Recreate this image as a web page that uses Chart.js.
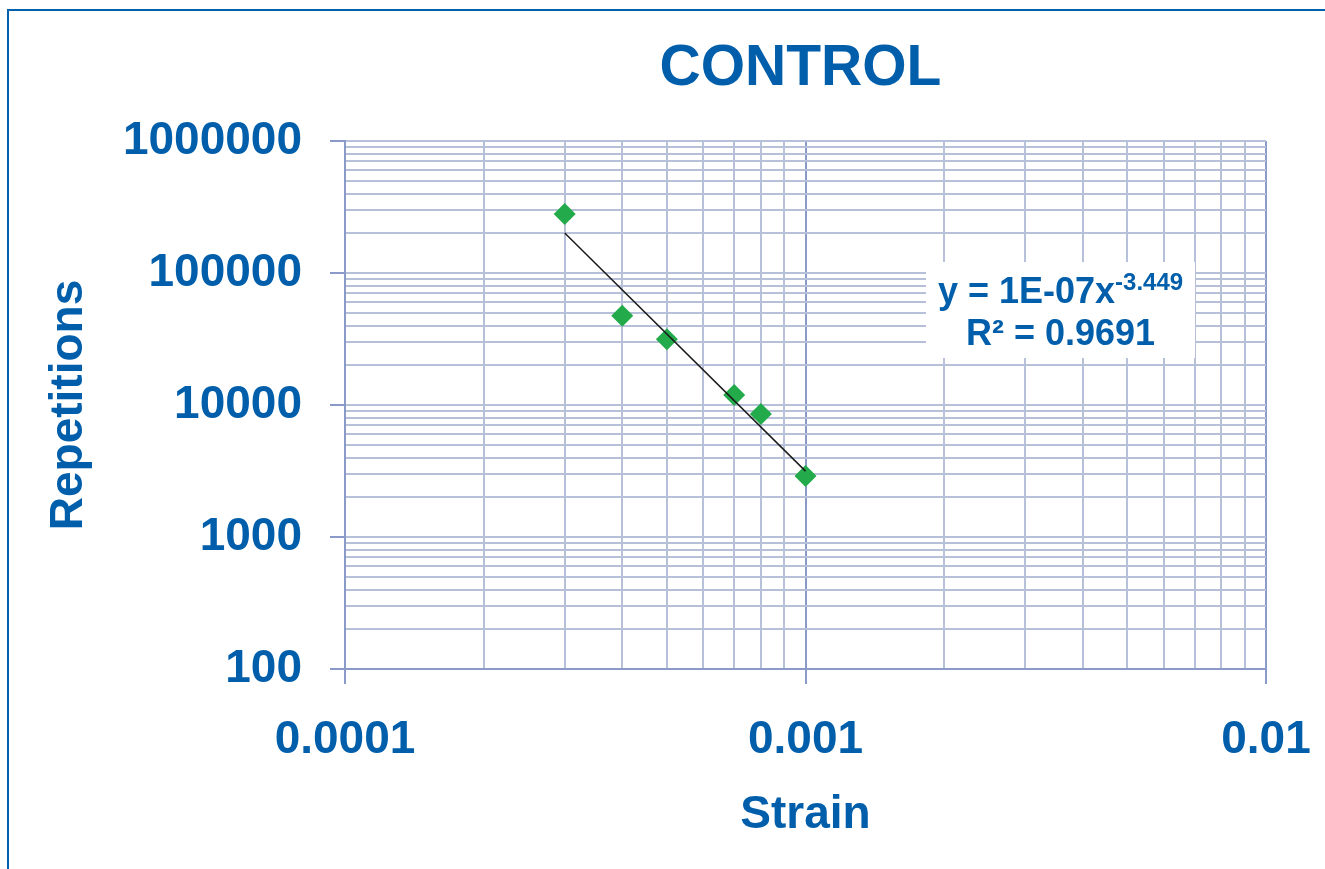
<!DOCTYPE html>
<html>
<head>
<meta charset="utf-8">
<title>CONTROL</title>
<script src="https://cdn.jsdelivr.net/npm/chart.js@4.4.0/dist/chart.umd.min.js"></script>
<style>
  html, body { margin: 0; padding: 0; background: #ffffff; overflow: hidden; }
  #wrap { position: relative; width: 1325px; height: 869px; overflow: hidden; }
  #frame {
    position: absolute; left: 7px; top: 9px; width: 1400px; height: 900px;
    border-left: 2px solid #0060ac; border-top: 2px solid #0060ac;
    pointer-events: none;
  }
  canvas { position: absolute; left: 0; top: 0; }
</style>
</head>
<body>
<div id="wrap">
  <div id="frame"></div>
  <canvas id="chart" width="1325" height="869"></canvas>
</div>
<script>
// ---- chart data ----
const chartTitle = 'CONTROL';
const xAxisTitle = 'Strain';
const yAxisTitle = 'Repetitions';

const strain = [0.0003, 0.0004, 0.0005, 0.0007, 0.0008, 0.001];
const repetitions = [280000, 47500, 31500, 11900, 8550, 2900];

const xTickLabels = ['0.0001', '0.001', '0.01'];
const yTickLabels = ['100', '1000', '10000', '100000', '1000000'];

// power trendline  y = a * x^b
const trendCoef = 1.42e-7;
const trendExp = -3.449;
const rSquared = 0.9691;

// ---- styling ----
const BLUE = '#005eaa';
const GREEN = '#22aa4b';
const GRID = '#b7c0d9';
const GRID_DARK = '#8a9bc9';
const FONT = '"Liberation Sans", Arial, Helvetica, sans-serif';

const points = strain.map((x, i) => ({ x, y: repetitions[i] }));
const xMinData = Math.min(...strain);
const xMaxData = Math.max(...strain);
const trendPoints = [xMinData, xMaxData].map(x => ({ x, y: trendCoef * Math.pow(x, trendExp) }));

function log10(v) { return Math.log(v) / Math.LN10; }
function isDecade(v) { const l = log10(v); return Math.abs(l - Math.round(l)) < 1e-6; }
function labelFor(list, v) {
  const hit = list.find(l => Math.abs(log10(Number(l)) - log10(v)) < 1e-6);
  return hit === undefined ? '' : hit;
}
// grid ticks at 1..9 x 10^n between the first and last labelled decade
function decadeTicks(list) {
  const lo = Math.round(log10(Number(list[0])));
  const hi = Math.round(log10(Number(list[list.length - 1])));
  const out = [];
  for (let e = lo; e <= hi; e++) {
    for (let m = 1; m <= 9; m++) {
      if (e === hi && m > 1) break;
      out.push({ value: Number((m * Math.pow(10, e)).toPrecision(6)) });
    }
  }
  return out;
}
function formatCoef(a) {
  const [mant, exp] = a.toExponential(0).split('e');
  const e = parseInt(exp, 10);
  return mant + 'E' + (e < 0 ? '-' : '+') + String(Math.abs(e)).padStart(2, '0');
}
function darkX(c) {
  if (!c.tick) return false;
  const v = c.tick.value;
  return Math.abs(v - 0.001) < 1e-9 || Math.abs(v - 0.01) < 1e-9;
}

// title and trendline equation drawn onto the canvas
const annotations = {
  id: 'annotations',
  afterDraw(chart) {
    const { ctx, chartArea } = chart;
    ctx.save();
    ctx.fillStyle = BLUE;
    ctx.textBaseline = 'alphabetic';
    ctx.textAlign = 'center';
    ctx.font = 'bold 57px ' + FONT;
    ctx.fillText(chartTitle, (chartArea.left + chartArea.right) / 2 - 5, 85);

    // equation box
    const bx = 926, by = 262, bw = 269, bh = 96;
    ctx.fillStyle = '#ffffff';
    ctx.fillRect(bx, by, bw, bh);
    const cx = bx + bw / 2;
    ctx.fillStyle = BLUE;
    const main = 'y = ' + formatCoef(trendCoef) + 'x';
    const sup = trendExp.toFixed(3);
    ctx.font = 'bold 36px ' + FONT;
    const wMain = ctx.measureText(main).width;
    ctx.font = 'bold 24px ' + FONT;
    const wSup = ctx.measureText(sup).width;
    const x0 = cx - (wMain + wSup) / 2;
    ctx.textAlign = 'left';
    ctx.font = 'bold 36px ' + FONT;
    ctx.fillText(main, x0, 303);
    ctx.font = 'bold 24px ' + FONT;
    ctx.fillText(sup, x0 + wMain, 290);
    ctx.textAlign = 'center';
    ctx.font = 'bold 36px ' + FONT;
    ctx.fillText('R\u00B2 = ' + rSquared.toFixed(4), cx, 345);
    ctx.restore();
  }
};

new Chart(document.getElementById('chart'), {
  type: 'scatter',
  data: {
    datasets: [
      {
        type: 'line',
        label: 'Power trend',
        data: trendPoints,
        borderColor: '#1a1a1a',
        borderWidth: 1.5,
        pointRadius: 0,
        fill: false,
        order: 0
      },
      {
        label: 'Repetitions',
        data: points,
        pointStyle: 'rectRot',
        pointRadius: 11,
        pointBackgroundColor: GREEN,
        pointBorderColor: GREEN,
        pointBorderWidth: 0,
        showLine: false,
        order: 1
      }
    ]
  },
  options: {
    responsive: false,
    animation: false,
    devicePixelRatio: 1,
    layout: { padding: { top: 141, right: 59, bottom: 0, left: 0 } },
    plugins: {
      legend: { display: false },
      tooltip: { enabled: false },
      title: { display: false }
    },
    scales: {
      x: {
        type: 'logarithmic',
        position: 'bottom',
        min: Number(xTickLabels[0]),
        max: Number(xTickLabels[xTickLabels.length - 1]),
        afterBuildTicks(scale) { scale.ticks = decadeTicks(xTickLabels); },
        afterFit(scale) { scale.height = 200; scale.paddingLeft = 0; scale.paddingRight = 0; },
        grid: {
          color: c => darkX(c) ? GRID_DARK : GRID,
          lineWidth: 2,
          drawTicks: true,
          tickLength: 15,
          tickWidth: 2,
          tickColor: c => (c.tick && isDecade(c.tick.value)) ? GRID_DARK : 'rgba(0,0,0,0)'
        },
        border: { display: true, color: GRID_DARK, width: 2 },
        ticks: {
          autoSkip: false,
          maxRotation: 0,
          padding: 29,
          color: BLUE,
          font: { family: FONT, size: 46, weight: 'bold' },
          callback: v => labelFor(xTickLabels, v)
        },
        title: {
          display: true,
          text: xAxisTitle,
          color: BLUE,
          font: { family: FONT, size: 46, weight: 'bold' },
          padding: { top: 0, bottom: 26 }
        }
      },
      y: {
        type: 'logarithmic',
        position: 'left',
        min: Number(yTickLabels[0]),
        max: Number(yTickLabels[yTickLabels.length - 1]),
        afterBuildTicks(scale) { scale.ticks = decadeTicks(yTickLabels); },
        afterFit(scale) { scale.width = 345; scale.paddingTop = 0; scale.paddingBottom = 0; },
        grid: {
          color: GRID,
          lineWidth: 2,
          drawTicks: true,
          tickLength: 15,
          tickWidth: 2,
          tickColor: c => (c.tick && isDecade(c.tick.value)) ? GRID_DARK : 'rgba(0,0,0,0)'
        },
        border: { display: true, color: GRID_DARK, width: 2 },
        ticks: {
          autoSkip: false,
          padding: 28,
          color: BLUE,
          font: { family: FONT, size: 46, weight: 'bold' },
          callback: v => labelFor(yTickLabels, v)
        },
        title: {
          display: true,
          text: yAxisTitle,
          color: BLUE,
          font: { family: FONT, size: 46, weight: 'bold' },
          padding: { top: 42, bottom: 0 }
        }
      }
    }
  },
  plugins: [annotations]
});
</script>
</body>
</html>
